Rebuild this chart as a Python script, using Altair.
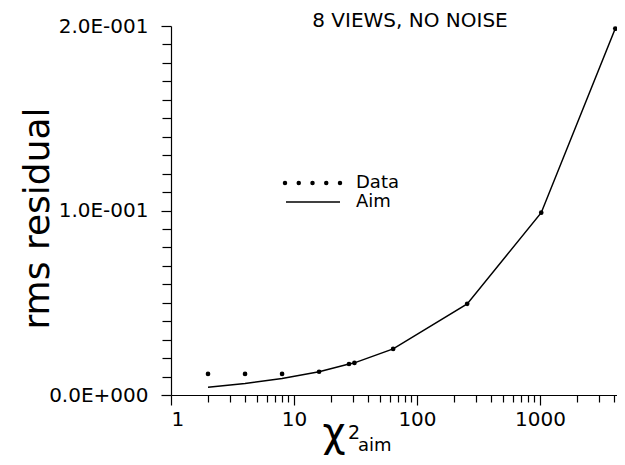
import altair as alt
import pandas as pd

# values
chi2_aim = [2, 4, 8, 16, 28, 31, 64, 256, 1024, 4096]
rms_data = [0.0114, 0.0114, 0.0114, 0.0126, 0.0168, 0.0174, 0.0250, 0.0494, 0.0988, 0.1986]
rms_aim = [0.0042, 0.0062, 0.0090, 0.0126, 0.0168, 0.0174, 0.0250, 0.0494, 0.0988, 0.1986]

x_major = [1, 10, 100, 1000]
x_minor = [2, 3, 4, 5, 6, 7, 8, 9, 20, 30, 40, 50, 60, 70, 80, 90,
           200, 300, 400, 500, 600, 700, 800, 900, 2000, 3000, 4000]
y_major = [0.0, 0.1, 0.2]
y_minor = [0.01, 0.02, 0.03, 0.04, 0.05, 0.06, 0.07, 0.08, 0.09,
           0.11, 0.12, 0.13, 0.14, 0.15, 0.16, 0.17, 0.18, 0.19]

title_text = "8 VIEWS, NO NOISE"
y_title = "rms residual"
legend_labels = ["Data", "Aim"]

FONT = "DejaVu Sans"
W, H = 446, 369

df = pd.DataFrame({"chi2": chi2_aim, "data": rms_data, "aim": rms_aim})
one = pd.DataFrame({"k": [0]})

xscale = alt.Scale(type="log", domain=[1, 4230], nice=False)
yscale = alt.Scale(domain=[0, 0.2], nice=False, zero=True)

ax_common = dict(grid=False, domainColor="black", tickColor="black",
                 labelColor="black", labelFont=FONT, labelFontSize=20,
                 tickWidth=1.2, domainWidth=1.2)

x_ax_major = alt.Axis(orient="bottom", values=x_major, tickSize=10,
                      labelPadding=4, title=None,
                      labelExpr="format(datum.value, 'd')", **ax_common)
x_ax_minor = alt.Axis(orient="bottom", values=x_minor, tickSize=7,
                      labels=False, domain=False, title=None, grid=False,
                      tickColor="black", tickWidth=1.2)
y_ax_major = alt.Axis(orient="left", values=y_major, tickSize=10,
                      labelPadding=13, title=y_title, titleFont=FONT,
                      titleFontSize=36, titleFontWeight="normal",
                      titleColor="black", titleX=-134, titleY=192,
                      titleAngle=-90, titleBaseline="middle", titleAlign="center",
                      labelExpr="datum.value < 0.05 ? '0.0E+000' : (datum.value < 0.15 ? '1.0E-001' : '2.0E-001')",
                      **ax_common)
y_ax_minor = alt.Axis(orient="left", values=y_minor, tickSize=9,
                      labels=False, domain=False, title=None, grid=False,
                      tickColor="black", tickWidth=1.2)

line = alt.Chart(df).mark_line(color="black", strokeWidth=1.5).encode(
    x=alt.X("chi2:Q", scale=xscale, axis=x_ax_major),
    y=alt.Y("aim:Q", scale=yscale, axis=y_ax_major),
)
points = alt.Chart(df).mark_circle(color="black", size=22, opacity=1).encode(
    x=alt.X("chi2:Q", scale=xscale, axis=x_ax_minor),
    y=alt.Y("data:Q", scale=yscale, axis=y_ax_minor),
)

leg_dots = alt.Chart(one).mark_rule(color="black", strokeWidth=4.5,
                                    strokeCap="round", strokeDash=[0, 13.75]).encode(
    x=alt.value(114), x2=alt.value(171), y=alt.value(157))
leg_line = alt.Chart(one).mark_rule(color="black", strokeWidth=1.5).encode(
    x=alt.value(115), x2=alt.value(169), y=alt.value(176))
leg_t1 = alt.Chart(one).mark_text(text=legend_labels[0], font=FONT, fontSize=18,
                                  align="left", baseline="middle", color="black").encode(
    x=alt.value(185), y=alt.value(157))
leg_t2 = alt.Chart(one).mark_text(text=legend_labels[1], font=FONT, fontSize=18,
                                  align="left", baseline="middle", color="black").encode(
    x=alt.value(185), y=alt.value(176))

title = alt.Chart(one).mark_text(text=title_text, font=FONT, fontSize=20,
                                 align="center", baseline="alphabetic", color="black").encode(
    x=alt.value(239), y=alt.value(1))

chi = alt.Chart(one).mark_text(text="χ", font=FONT, fontSize=40, align="center",
                               baseline="alphabetic", color="black").encode(
    x=alt.value(163), y=alt.value(420))
sup = alt.Chart(one).mark_text(text="2", font=FONT, fontSize=19, align="left",
                               baseline="alphabetic", color="black").encode(
    x=alt.value(177), y=alt.value(413))
sub = alt.Chart(one).mark_text(text="aim", font=FONT, fontSize=18, align="left",
                               baseline="alphabetic", color="black").encode(
    x=alt.value(187), y=alt.value(425))

chart = alt.layer(
    line, points, leg_dots, leg_line, leg_t1, leg_t2, title, chi, sup, sub
).resolve_axis(x="independent", y="independent").properties(
    width=W, height=H,
    autosize=alt.AutoSizeParams(type="none"),
    padding={"left": 163, "top": 18, "right": 0, "bottom": 62},
    background="white",
).configure_view(stroke=None)

chart.save("out.html", embed_options={"renderer": "svg", "actions": False})
